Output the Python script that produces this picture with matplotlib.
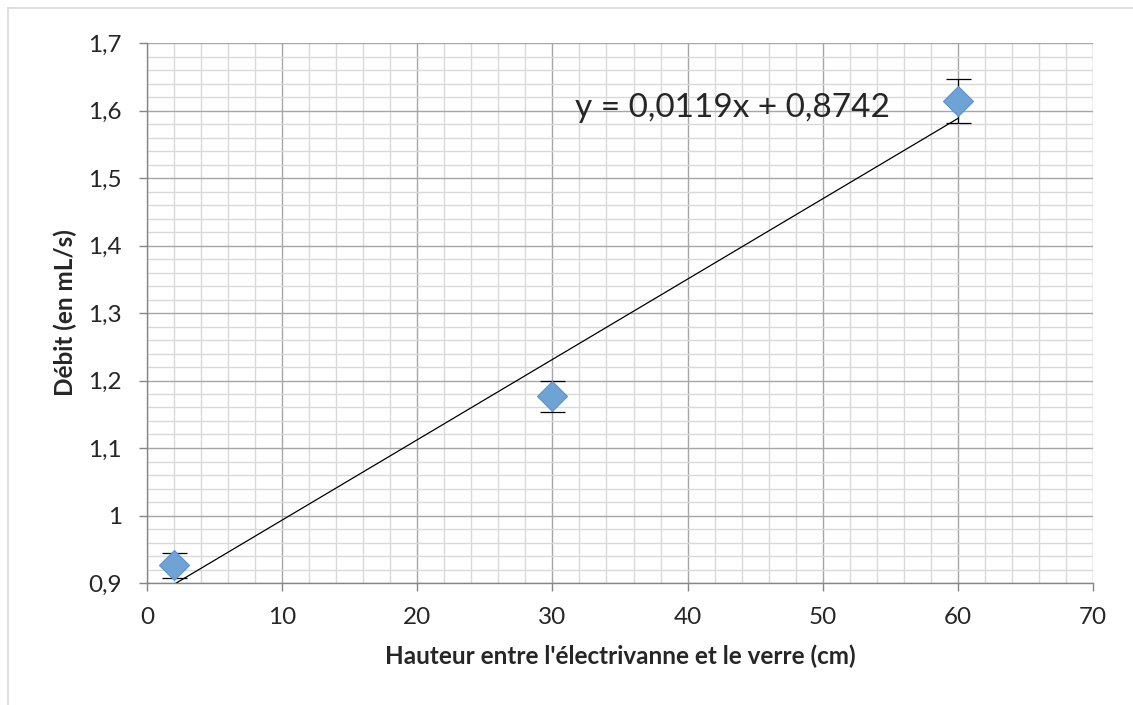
import numpy as np
import matplotlib
matplotlib.use('Agg')
import matplotlib.pyplot as plt
from matplotlib.lines import Line2D
from matplotlib.ticker import MultipleLocator, FuncFormatter

# data
hauteur = [2, 30, 60]
debit = [0.926, 1.177, 1.614]
erreur = [0.019, 0.023, 0.032]
pente = 0.0119
ordonnee = 0.8742
x_ticks = [0, 10, 20, 30, 40, 50, 60, 70]
y_ticks = [0.9, 1.0, 1.1, 1.2, 1.3, 1.4, 1.5, 1.6, 1.7]

plt.rcParams['font.family'] = ['Lato', 'DejaVu Sans']

fig = plt.figure(figsize=(11.33, 7.05), dpi=100)
ax = fig.add_axes([147/1133, 1 - 583/705, (1093 - 147)/1133, (583 - 43)/705])

# outer chart border (only top and left visible)
fig.add_artist(Line2D([8/1133, 1], [1 - 8/705, 1 - 8/705], color='#d9d9d9', lw=1.2))
fig.add_artist(Line2D([8/1133, 8/1133], [0, 1 - 8/705], color='#d9d9d9', lw=1.2))

ax.set_xlim(0, 70)
ax.set_ylim(0.9, 1.7)
ax.set_xticks(x_ticks)
ax.set_yticks(y_ticks)
ax.xaxis.set_minor_locator(MultipleLocator(2))
ax.yaxis.set_minor_locator(MultipleLocator(0.02))

def virgule(v, pos):
    s = ('%.1f' % v).rstrip('0').rstrip('.')
    return s.replace('.', ',')

ax.xaxis.set_major_formatter(FuncFormatter(lambda v, p: '%d' % v))
ax.yaxis.set_major_formatter(FuncFormatter(virgule))

ax.grid(which='major', color='#a6a6a6', lw=1.0)
ax.grid(which='minor', color='#d9d9d9', lw=1.0)
ax.set_axisbelow(True)

for s in ['top', 'right']:
    ax.spines[s].set_visible(False)
for s in ['left', 'bottom']:
    ax.spines[s].set_color('#868686')
    ax.spines[s].set_linewidth(1.0)

ax.tick_params(which='major', length=6, width=1, color='#868686',
               labelsize=17.5, labelcolor='#262626')
ax.tick_params(axis='x', which='major', pad=11)
ax.tick_params(axis='y', which='major', pad=12)
ax.tick_params(which='minor', length=0)

# trend line over the data range
xs = np.array([min(hauteur), max(hauteur)])
ax.plot(xs, pente * xs + ordonnee, color='black', lw=0.9, zorder=3)

ax.errorbar(hauteur, debit, yerr=erreur, fmt='none', ecolor='black',
            elinewidth=0.9, capsize=9, capthick=0.9, zorder=4)
ax.plot(hauteur, debit, linestyle='none', marker='D', markersize=15,
        markerfacecolor='#6fa3d6', markeredgecolor='#5b93c9', markeredgewidth=0.8,
        zorder=5, clip_on=False)

ax.text(31.7, 1.6037, 'y = 0,0119x + 0,8742', fontsize=24, color='#262626',
        ha='left', va='center', zorder=6)

ax.set_xlabel("Hauteur entre l'électrivanne et le verre (cm)", fontsize=17.5,
              fontweight='bold', color='#262626', labelpad=12)
ax.set_ylabel('Débit (en mL/s)', fontsize=17.5, fontweight='bold',
              color='#262626', labelpad=8)

fig.savefig('out.png', dpi=100)
